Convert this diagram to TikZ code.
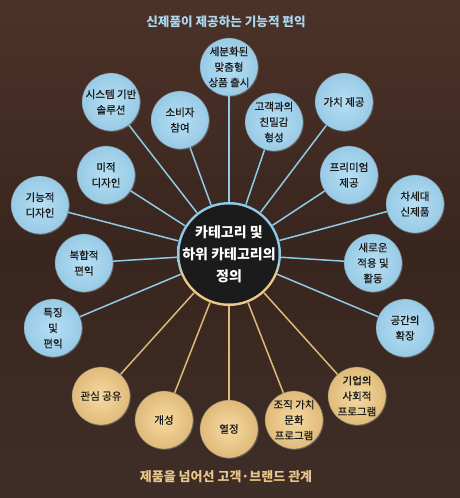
\documentclass[tikz,border=0pt]{standalone}
\usepackage{fontspec}
\newfontfamily\kr{Noto Sans CJK KR}
\newfontfamily\krm[BoldFont={Noto Sans CJK KR}, BoldFeatures={FakeBold=0.8}]{Noto Sans CJK KR}
\usetikzlibrary{shadows}
\definecolor{cblue}{HTML}{A8D6EE}
\definecolor{cbluel}{HTML}{B6DFF3}
\definecolor{cblued}{HTML}{98CAE6}
\definecolor{cline}{HTML}{8FCBE6}
\definecolor{ctan}{HTML}{EBC98C}
\definecolor{ctanl}{HTML}{F5DAA2}
\definecolor{ctand}{HTML}{E0BA79}
\definecolor{ctline}{HTML}{DDBA7A}
\definecolor{ctitleb}{HTML}{A9D8EF}
\definecolor{ctitlet}{HTML}{E8C58A}
\definecolor{cdark}{HTML}{1C1B1B}
\definecolor{ctext}{HTML}{1A1A1A}
\definecolor{bgtop}{HTML}{4C3229}
\definecolor{bgmid}{HTML}{39261E}
\definecolor{bgbot}{HTML}{3E2E27}
\pgfdeclareverticalshading{ringshade}{100bp}{color(0bp)=(ctan); color(40bp)=(ctan); color(47bp)=(cline); color(100bp)=(cline)}
\begin{document}
\begin{tikzpicture}[x=1pt,y=1pt,
  bnode/.style={circle, minimum size=58pt, inner sep=0pt, inner color=cbluel, outer color=cblued,
    draw=black!60, line width=0.3pt, text=ctext, align=center,
    font=\krm\bfseries\fontsize{10.5}{15.5}\selectfont,
    drop shadow={shadow xshift=0.8pt, shadow yshift=-0.8pt, opacity=0.55}},
  tnode/.style={bnode, inner color=ctanl, outer color=ctand},
  bline/.style={draw=cline, line width=1.5pt},
  tline/.style={draw=ctline, line width=1.5pt},
  title/.style={font=\kr\bfseries\fontsize{12.6}{14}\selectfont}
]
\useasboundingbox (0,0) rectangle (460,-498);
\shade[top color=bgtop, bottom color=bgbot, middle color=bgmid] (0,0) rectangle (460,-498);

\node[title, text=ctitleb] (t1) at (226,-22) {신제품이 제공하는 기능적 편익};
\node[title, text=ctitlet, font=\kr\bfseries\fontsize{13}{15}\selectfont] (t2) at (226,-477) {제품을 넘어선 고객·브랜드 관계};

% center
\node[circle, minimum size=104pt, inner sep=0pt, shading=ringshade] (c) at (229,-254) {};

% blue nodes
\node[bnode] (b1) at (229,-67) {세분화된\\맞춤형\\상품 출시};
\node[bnode] (b2) at (274,-122) {고객과의\\친밀감\\형성};
\node[bnode] (b3) at (344,-102) {가치 제공};
\node[bnode] (b4) at (111,-102) {시스템 기반\\솔루션};
\node[bnode] (b5) at (180,-120) {소비자\\참여};
\node[bnode] (b6) at (106,-175) {미적\\디자인};
\node[bnode] (b7) at (349,-175) {프리미엄\\제공};
\node[bnode] (b8) at (40,-205) {기능적\\디자인};
\node[bnode] (b9) at (415,-204) {차세대\\신제품};
\node[bnode] (b10) at (84,-263) {복합적\\편익};
\node[bnode] (b11) at (373,-263) {새로운\\적용 및\\활동};
\node[bnode] (b12) at (53,-328) {특징\\및\\편익};
\node[bnode] (b13) at (405,-328) {공간의\\확장};

% tan nodes
\node[tnode] (g1) at (101,-396) {관심 공유};
\node[tnode] (g2) at (164,-420) {개성};
\node[tnode] (g3) at (229,-429) {열정};
\node[tnode] (g4) at (294,-420) {조직 가치\\문화\\프로그램};
\node[tnode] (g5) at (357,-396) {기업의\\사회적\\프로그램};

% connectors
\foreach \n in {b1,b2,b3,b4,b5,b6,b7,b8,b9,b10,b11,b12,b13}
  \draw[bline] (c) -- (\n);
\foreach \n in {g1,g2,g3,g4,g5}
  \draw[tline] (c) -- (\n);

\fill[cdark] (c.center) circle (49.5);
\node[text=white, align=center, font=\kr\bfseries\fontsize{14}{22}\selectfont] (ct) at (c.center) {카테고리 및\\하위 카테고리의\\정의};
\end{tikzpicture}
\end{document}
